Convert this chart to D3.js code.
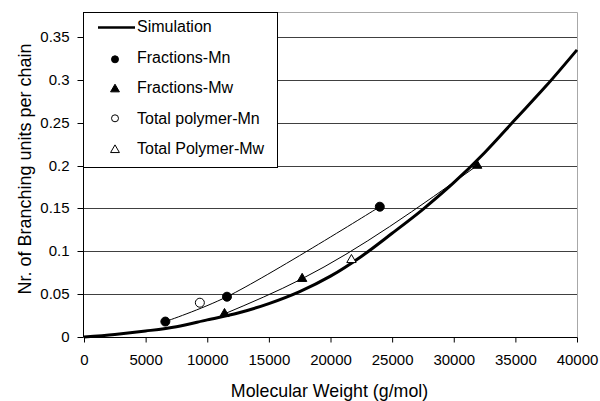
<!DOCTYPE html>
<html>
<head>
<meta charset="utf-8">
<script src="https://cdn.jsdelivr.net/npm/d3@7"></script>
<style>
  body { margin: 0; background: #fff; }
  text { font-family: "Liberation Sans", Arial, sans-serif; fill: #000; }
</style>
</head>
<body>
<svg id="chart" width="600" height="401"></svg>
<script>
// simulation curve (Mw vs branching units per chain)
let simX = [0, 2500, 5000, 7500, 10000, 12500, 15000, 17500, 20000, 22500, 25000, 27500, 30000, 32500, 35000, 37500, 40000];
let simY = [0, 0.003, 0.007, 0.012, 0.020, 0.028, 0.039, 0.053, 0.071, 0.094, 0.121, 0.149, 0.180, 0.215, 0.254, 0.293, 0.335];

let fracMnX = [6600, 11600, 24000];
let fracMnY = [0.018, 0.047, 0.152];
let fracMwX = [11400, 17700, 31900];
let fracMwY = [0.027, 0.068, 0.200];
let totMnX = [9400];
let totMnY = [0.040];
let totMwX = [21700];
let totMwY = [0.090];

let xTicks = [0, 5000, 10000, 15000, 20000, 25000, 30000, 35000, 40000];
let yTicks = [0, 0.05, 0.1, 0.15, 0.2, 0.25, 0.3, 0.35];

let svg = d3.select("svg#chart");
let padLeft = 84, padRight = 577, padBottom = 337, padTop = 12;

let xScale = d3.scaleLinear().domain([0, 40000]).range([padLeft, padRight]);
let yScale = d3.scaleLinear().domain([0, 0.35]).range([padBottom, 37]);

// gridlines
svg.append("g")
    .selectAll("line")
    .data(yTicks.slice(1))
    .join("line")
    .attr("x1", padLeft).attr("x2", padRight)
    .attr("y1", d => Math.round(yScale(d)) + 0.5).attr("y2", d => Math.round(yScale(d)) + 0.5)
    .attr("stroke", "#404040").attr("stroke-width", 1);

// plot frame top + right (grey)
svg.append("path")
    .attr("d", "M" + padLeft + "," + (padTop + 0.5) + "H" + (padRight + 0.5) + "V" + padBottom)
    .attr("fill", "none").attr("stroke", "#a8a8a8").attr("stroke-width", 1);

// axes
let xAxis = d3.axisBottom(xScale).tickValues(xTicks).tickSize(5).tickPadding(12).tickFormat(d3.format("d"));
let yAxis = d3.axisLeft(yScale).tickValues(yTicks).tickSize(6).tickPadding(8).tickFormat(d => d === 0 ? "0" : String(+d.toFixed(2)));

let gx = svg.append("g").attr("transform", "translate(0," + (padBottom + 0.5) + ")").call(xAxis);
let gy = svg.append("g").attr("transform", "translate(" + (padLeft - 0.5) + ",0)").call(yAxis);
gx.select("path.domain").attr("d", "M" + padLeft + ",0H" + (padRight + 0.5));
gy.select("path.domain").attr("d", "M0," + padTop + "V" + (padBottom + 0.5));
gy.selectAll(".tick").attr("transform", d => "translate(0," + (Math.round(yScale(d)) + 0.5) + ")");
svg.selectAll(".tick text").style("font-size", "15px").style("font-family", "Liberation Sans, Arial, sans-serif");
svg.selectAll(".domain, .tick line").attr("stroke", "#000");

// axis titles
svg.append("text")
    .attr("x", (padLeft + padRight) / 2 - 1).attr("y", 397)
    .attr("text-anchor", "middle").style("font-size", "17.8px")
    .text("Molecular Weight (g/mol)");
svg.append("text")
    .attr("transform", "translate(31,169)rotate(-90)")
    .attr("text-anchor", "middle").style("font-size", "18px")
    .text("Nr. of Branching units per chain");

// lines through fraction points
let smoothMn = d3.line().x(d => xScale(d[0])).y(d => yScale(d[1])).curve(d3.curveCatmullRom.alpha(0.5));
let smoothMw = d3.line().x(d => xScale(d[0])).y(d => yScale(d[1])).curve(d3.curveMonotoneX);
svg.append("path").datum(d3.zip(fracMnX, fracMnY))
    .attr("d", smoothMn).attr("fill", "none").attr("stroke", "#000").attr("stroke-width", 1);
svg.append("path").datum(d3.zip(fracMwX, fracMwY))
    .attr("d", smoothMw).attr("fill", "none").attr("stroke", "#000").attr("stroke-width", 1);

// simulation
let simLine = d3.line().x(d => xScale(d[0])).y(d => yScale(d[1])).curve(d3.curveCatmullRom.alpha(0.5));
svg.append("path").datum(d3.zip(simX, simY))
    .attr("d", simLine).attr("fill", "none").attr("stroke", "#000").attr("stroke-width", 3);

// markers
let tri = d3.symbol().type(d3.symbolTriangle).size(38);
function circles(xs, ys, fill) {
    svg.append("g").selectAll("circle").data(d3.zip(xs, ys)).join("circle")
        .attr("cx", d => xScale(d[0])).attr("cy", d => yScale(d[1])).attr("r", 4.5)
        .attr("fill", fill).attr("stroke", "#000").attr("stroke-width", 1);
}
function triangles(xs, ys, fill) {
    svg.append("g").selectAll("path").data(d3.zip(xs, ys)).join("path")
        .attr("transform", d => "translate(" + xScale(d[0]) + "," + yScale(d[1]) + ")")
        .attr("d", tri).attr("fill", fill).attr("stroke", "#000").attr("stroke-width", 1);
}
circles(fracMnX, fracMnY, "#000");
triangles(fracMwX, fracMwY, "#000");
circles(totMnX, totMnY, "#fff");
triangles(totMwX, totMwY, "#fff");

// legend
let legend = svg.append("g");
legend.append("rect")
    .attr("x", padLeft - 0.5).attr("y", padTop + 0.5).attr("width", 194).attr("height", 155)
    .attr("fill", "#fff").attr("stroke", "#000").attr("stroke-width", 1);
let legendItems = ["Simulation", "Fractions-Mn", "Fractions-Mw", "Total polymer-Mn", "Total Polymer-Mw"];
let rowBase = [31.5, 63, 92.7, 124, 154];
let rowMark = [27.5, 59.3, 89.3, 118.3, 150];
legendItems.forEach(function (name, i) {
    let y = rowMark[i];
    if (i === 0) {
        legend.append("line").attr("x1", 98).attr("x2", 135).attr("y1", y).attr("y2", y)
            .attr("stroke", "#000").attr("stroke-width", 2.5);
    } else if (i === 1 || i === 3) {
        legend.append("circle").attr("cx", 115).attr("cy", y).attr("r", 3.5)
            .attr("fill", i === 1 ? "#000" : "#fff").attr("stroke", "#000");
    } else {
        legend.append("path").attr("transform", "translate(115," + y + ")")
            .attr("d", d3.symbol().type(d3.symbolTriangle).size(34))
            .attr("fill", i === 2 ? "#000" : "#fff").attr("stroke", "#000");
    }
    legend.append("text").attr("x", 137).attr("y", rowBase[i]).style("font-size", "16px").text(name);
});
</script>
</body>
</html>
